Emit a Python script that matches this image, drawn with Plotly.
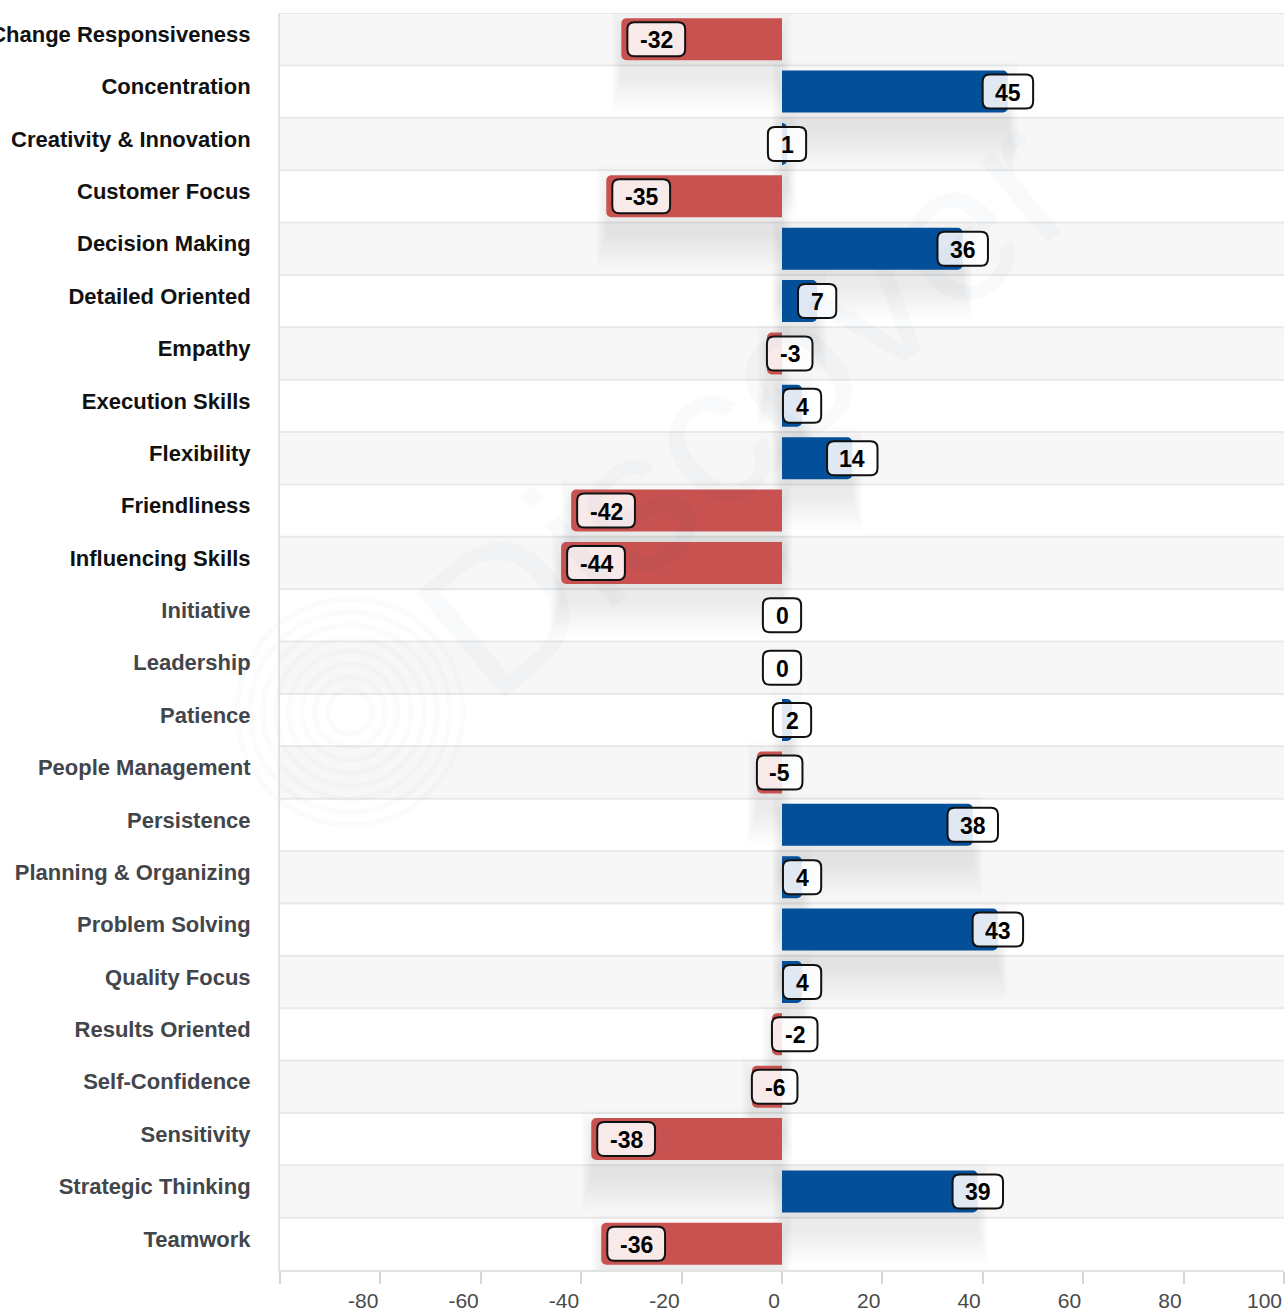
import plotly.graph_objects as go

categories = [
    "Change Responsiveness", "Concentration", "Creativity & Innovation", "Customer Focus",
    "Decision Making", "Detailed Oriented", "Empathy", "Execution Skills", "Flexibility",
    "Friendliness", "Influencing Skills", "Initiative", "Leadership", "Patience",
    "People Management", "Persistence", "Planning & Organizing", "Problem Solving",
    "Quality Focus", "Results Oriented", "Self-Confidence", "Sensitivity",
    "Strategic Thinking", "Teamwork",
]
values = [-32, 45, 1, -35, 36, 7, -3, 4, 14, -42, -44, 0, 0, 2, -5, 38, 4, 43, 4, -2, -6, -38, 39, -36]
dark_label_count = 11  # first labels drawn in black, rest in grey
x_tickvals = [-100, -80, -60, -40, -20, 0, 20, 40, 60, 80, 100]

RED = "#C85250"
BLUE = "#034F9A"
FONT = "Arial, 'Liberation Sans', sans-serif"

# layout geometry
W, H = 1288, 1313
ML, MR, MT, MB = 280, 4, 13, 43
XMIN, XMAX = -100, 100
PX_PER_UNIT = (W - ML - MR) / (XMAX - XMIN)

n = len(categories)
idx = list(range(n))

fig = go.Figure()

bar_colors = [RED if v < 0 else BLUE for v in values]
fig.add_trace(go.Bar(
    x=values, y=idx, orientation="h", width=0.8,
    marker=dict(color=bar_colors, cornerradius=5, line=dict(width=0)),
    hoverinfo="skip", showlegend=False,
))

shapes = []
# alternating row bands and separators
for i in idx:
    shapes.append(dict(type="rect", xref="x domain", yref="y", x0=0, x1=1,
                       y0=i - 0.5, y1=i + 0.5, layer="below", line=dict(width=0),
                       fillcolor="#F7F7F7" if i % 2 == 0 else "#FFFFFF"))
for i in range(n):
    shapes.append(dict(type="line", xref="x domain", yref="y", x0=0, x1=1,
                       y0=i - 0.5, y1=i - 0.5, layer="below",
                       line=dict(color="#E9E9E9", width=2)))

# soft drop shadows under bars
for i, v in enumerate(values):
    if v == 0:
        continue
    lo, hi = min(0, v), max(0, v)
    for k in range(10):
        pad = 2 + k * 3.5
        padu = pad / PX_PER_UNIT
        shapes.append(dict(type="rect", xref="x", yref="y", ysizemode="pixel", yanchor=i,
                           x0=lo - padu * 0.3, x1=hi + padu * 0.3,
                           y0=-(18 + pad) - 20, y1=(18 + pad) - 20,
                           layer="below", line=dict(width=0),
                           fillcolor="rgba(0,0,0,0.0065)"))

# fingerprint-like watermark
for r in range(22, 121, 13):
    shapes.append(dict(type="circle", xref="paper", yref="paper",
                       xsizemode="pixel", ysizemode="pixel",
                       xanchor=(350 - ML) / (W - ML - MR), yanchor=(H - MB - 712) / (H - MT - MB),
                       x0=-r, x1=r, y0=-r, y1=r, layer="below",
                       line=dict(color="rgba(30,80,170,0.025)", width=5)))

# label boxes
def text_width(s, fs=22):
    w = 0
    for ch in s:
        w += 0.333 if ch == "-" else 0.556
    return w * fs

def rounded_rect(x0, x1, y0, y1, r):
    return (f"M{x0 + r},{y0} L{x1 - r},{y0} Q{x1},{y0} {x1},{y0 + r} "
            f"L{x1},{y1 - r} Q{x1},{y1} {x1 - r},{y1} L{x0 + r},{y1} "
            f"Q{x0},{y1} {x0},{y1 - r} L{x0},{y0 + r} Q{x0},{y0} {x0 + r},{y0} Z")

annotations = []
for i, v in enumerate(values):
    s = str(v)
    bw = text_width(s) + 26
    bh = 34
    if v < 0:
        barpx = -v * PX_PER_UNIT
        shift = 6 if barpx > bw + 12 else 0
        c = shift + bw / 2
    else:
        c = 0
    shapes.append(dict(type="path", xref="x", yref="y", xsizemode="pixel", ysizemode="pixel",
                       xanchor=v, yanchor=i,
                       path=rounded_rect(c - bw / 2, c + bw / 2, -bh / 2, bh / 2, 7),
                       fillcolor="rgba(255,255,255,0.88)", line=dict(color="#111111", width=2),
                       layer="above"))
    annotations.append(dict(x=v, y=i, xref="x", yref="y", text=f"<b>{s}</b>", showarrow=False,
                            xanchor="center", yanchor="middle", xshift=c, yshift=-1,
                            font=dict(family=FONT, size=23, color="#000000")))

annotations.append(dict(x=(745 - ML) / (W - ML - MR), y=(H - MB - 405) / (H - MT - MB),
                        xref="paper", yref="paper", text="Discover",
                        xanchor="center", yanchor="middle",
                        showarrow=False, textangle=-40,
                        font=dict(family=FONT, size=200, color="rgba(30,80,170,0.03)")))

ticktext = []
for i, c in enumerate(categories):
    col = "#111111" if i < dark_label_count else "#42464B"
    ticktext.append(f"<span style='color:{col}'><b>{c}</b></span>")

x_ticktext = ["" if t == -100 else str(t) for t in x_tickvals]

fig.update_layout(
    width=W, height=H,
    margin=dict(l=ML, r=MR, t=MT, b=MB),
    paper_bgcolor="#FFFFFF", plot_bgcolor="#FFFFFF",
    shapes=shapes, annotations=annotations,
    font=dict(family=FONT),
    bargap=0.2,
    xaxis=dict(range=[XMIN, XMAX], tickvals=x_tickvals, ticktext=x_ticktext, automargin=False,
               ticks="outside", ticklen=12, tickwidth=2, tickcolor="#D6D6D6",
               ticklabelposition="outside left", ticklabelstandoff=11,
               tickfont=dict(size=21, color="#4A4A4A", family=FONT),
               showgrid=False, zeroline=False, showline=True, linecolor="#E2E2E2", linewidth=2,
               fixedrange=True),
    yaxis=dict(tickvals=idx, ticktext=ticktext, range=[n - 0.5, -0.5], automargin=False,
               ticks="", ticklabelstandoff=23, ticklabelshift=5, showgrid=False, zeroline=False,
               showline=True, linecolor="#E2E2E2", linewidth=2,
               tickfont=dict(size=22, family=FONT), fixedrange=True),
)

fig.write_html("out.html")
